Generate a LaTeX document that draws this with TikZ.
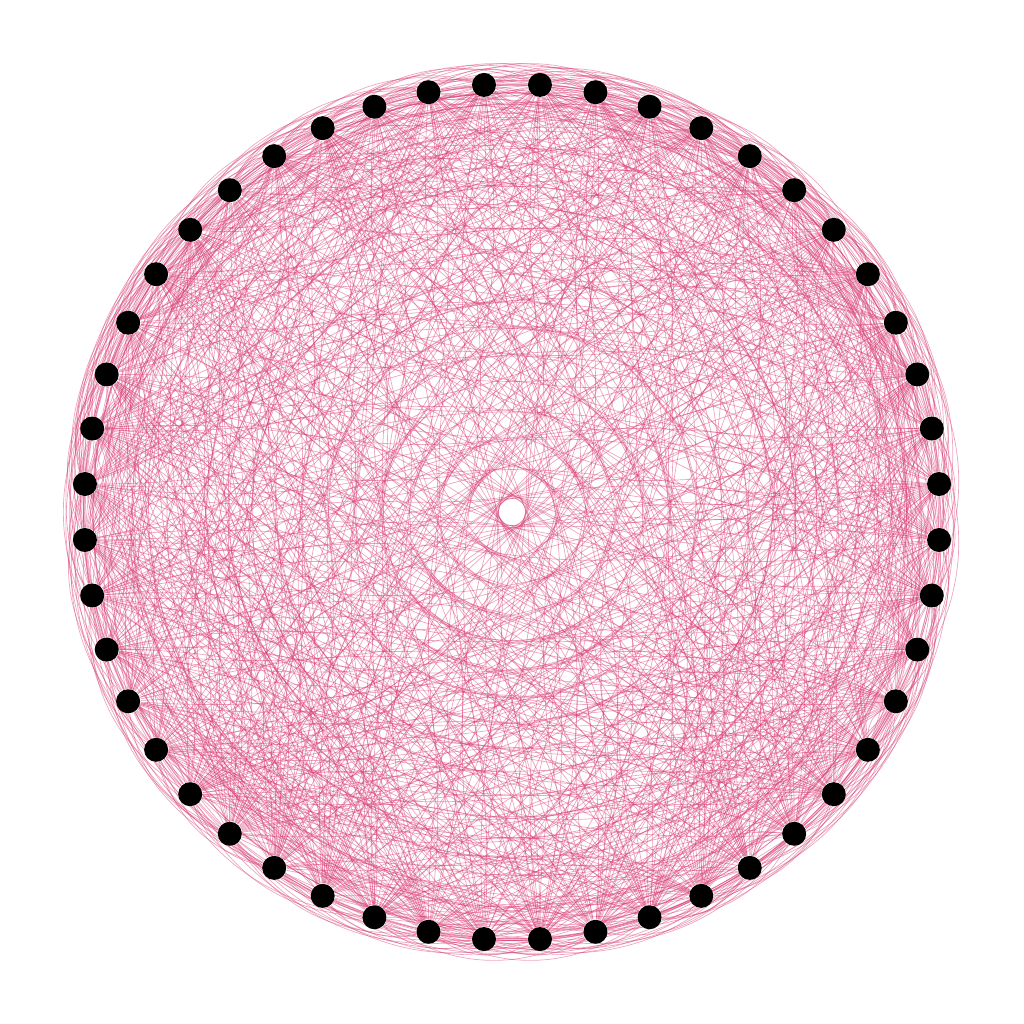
\documentclass[tikz,border=0pt]{standalone}
\usepackage{tikz}
\usetikzlibrary{backgrounds}
\definecolor{edgepink}{HTML}{D63A72}

\begin{document}
\begin{tikzpicture}[x=1cm,y=1cm,
    vertex/.style={circle,fill=black,inner sep=0pt,minimum size=0.24cm},
    link/.style={edgepink,line width=0.2pt,opacity=0.45}]

  \useasboundingbox (-5.12,-5.12) rectangle (5.12,5.12);
  \pgfmathsetseed{4711}

  % --- vertices on the ring ---
  \foreach \i in {0,...,47}
    \node[vertex] (v\i) at ({3.75+7.5*\i}:4.28) {};

  % --- bent edges, every pair, random side ---
  \begin{pgfonlayer}{background}
  \foreach \i in {0,...,46}{
    \pgfmathtruncatemacro{\jfirst}{\i+1}
    \foreach \j in {\jfirst,...,47}{
      \pgfmathtruncatemacro{\flip}{rnd<0.5}
      \ifnum\flip=1
        \draw[link] (v\i) to[bend left] (v\j);
      \else
        \draw[link] (v\i) to[bend right] (v\j);
      \fi
    }
  }
  \end{pgfonlayer}

\end{tikzpicture}
\end{document}
